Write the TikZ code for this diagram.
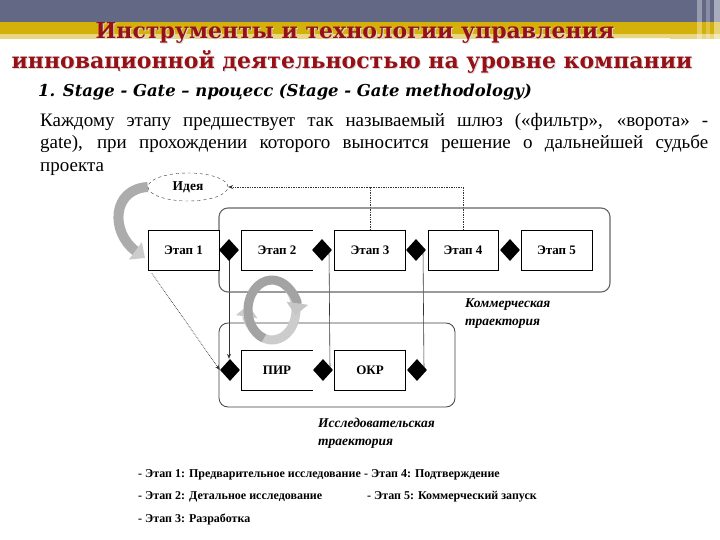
\documentclass[tikz,border=0pt]{standalone}
\usepackage{fontspec}
\setmainfont{Liberation Serif}
\newfontfamily\titlefont{DejaVu Serif}
\usetikzlibrary{shapes.geometric,arrows.meta,backgrounds,calc}
\pgfdeclarelayer{bottom}
\pgfsetlayers{bottom,background,main}
\definecolor{slate}{RGB}{99,104,133}
\definecolor{gold}{RGB}{212,176,10}
\definecolor{paleg}{RGB}{232,214,130}
\definecolor{titlered}{RGB}{150,16,22}
\begin{document}
\begin{tikzpicture}[x=1pt,y=-1pt,
  stagebox/.style={minimum width=71pt, minimum height=40pt, inner sep=0pt, fill=white,
    font=\bfseries\fontsize{13}{15}\selectfont},
  gate/.style={diamond, fill=black, minimum width=20pt, minimum height=22pt, inner sep=0pt},
  conn/.style={draw=black!80, line width=0.6pt},
  dots/.style={draw=black!80, densely dotted, line width=0.7pt},
  track/.style={font=\bfseries\itshape\fontsize{13.5}{18}\selectfont, align=left, anchor=west, inner sep=0pt},
  legend/.style={font=\bfseries\fontsize{12}{14}\selectfont, anchor=west, inner sep=0pt},
  ttl/.style={font=\titlefont\bfseries\fontsize{22}{26}\selectfont, text=titlered, inner sep=0pt},
  ttlsh/.style={font=\titlefont\bfseries\fontsize{22}{26}\selectfont, text=black!15, inner sep=0pt}
]
\begin{pgfonlayer}{bottom}
\fill[white] (0,0) rectangle (720,540);
\end{pgfonlayer}
\useasboundingbox (0,0) rectangle (720,540);
% banner
\begin{pgfonlayer}{bottom}
\fill[slate] (0,0) rectangle (720,22);
\fill[gold] (0,22) rectangle (720,34);
\fill[paleg] (0,34) rectangle (720,39);
\fill[white,opacity=0.35] (697,0) rectangle (702,46);
\fill[white,opacity=0.25] (706,0) rectangle (710,46);
\fill[white,opacity=0.45] (714,0) rectangle (720,46);
\fill[white,opacity=0.8] (615,38) rectangle (670,41);
\end{pgfonlayer}
% titles
\node[ttlsh] (t1s) at (356,34) {Инструменты и технологии управления};
\node[ttlsh] (t2s) at (353,63) {инновационной деятельностью на уровне компании};
\node[ttl] (t1) at (355,33) {Инструменты и технологии управления};
\node[ttl] (t2) at (352,62) {инновационной деятельностью на уровне компании};
\node[font=\titlefont\bfseries\itshape\fontsize{16.4}{19}\selectfont, anchor=west, inner sep=0pt] (sub) at (38,92)
  {1. Stage - Gate – процесс (Stage - Gate methodology)};
\node[anchor=north west, inner sep=0pt, text width=668pt, align=justify,
  font=\fontsize{19}{22.5}\selectfont] (para) at (40,113)
  {Каждому этапу предшествует так называемый шлюз («фильтр», «ворота» -\linebreak
   gate), при прохождении которого выносится решение о дальнейшей судьбе\linebreak
   проекта};
% containers
\node[draw=black!60, line width=1.1pt, rounded corners=9pt, minimum width=391pt, minimum height=84pt] (comm) at (414.5,250) {};
\node[draw=black!75, line width=0.8pt, rounded corners=9pt, minimum width=236pt, minimum height=84pt] (res) at (337,365) {};
% idea
\node[ellipse, draw=black!80, dashed, fill=white, minimum width=80pt, minimum height=28pt, inner sep=0pt,
  font=\bfseries\fontsize{13.5}{15}\selectfont] (idea) at (188,187) {Идея};
% stages
\node[stagebox, draw] (e1) at (183.5,250) {Этап 1};
\node[stagebox] (e2) at (277,250) {Этап 2};
\draw (e2.north east) -- (e2.north west) -- (e2.south west) -- (e2.south east);
\node[stagebox, draw] (e3) at (370,250) {Этап 3};
\node[stagebox, draw, minimum width=70pt] (e4) at (463,250) {Этап 4};
\node[stagebox, draw] (e5) at (556.5,250) {Этап 5};
\node[gate] (g1) at (229,250) {};
\node[gate] (g2) at (322,250) {};
\node[gate] (g3) at (416,250) {};
\node[gate] (g4) at (510,250) {};
% research
\node[stagebox] (r1) at (277,370) {ПИР};
\draw (r1.north east) -- (r1.north west) -- (r1.south west) -- (r1.south east);
\node[stagebox, draw] (r2) at (370,370) {ОКР};
\node[gate] (h1) at (230,370) {};
\node[gate] (h2) at (323,370) {};
\node[gate] (h3) at (417,370) {};
% cycle arrows
\coordinate (cyc) at (272,310);
\draw[line width=9pt, gray!40, -{Triangle[width=21pt,length=12pt]}]
  ([shift={(60:24pt and 30pt)}]cyc) arc[start angle=60, end angle=-190, x radius=24pt, y radius=30pt];
\draw[line width=9pt, gray!72, -{Triangle[width=21pt,length=12pt,color=gray!45]}]
  ([shift={(250:24pt and 30pt)}]cyc) arc[start angle=250, end angle=-10, x radius=24pt, y radius=30pt];
% connectors
\begin{pgfonlayer}{background}
\draw[line width=10pt, gray!65, -{Triangle[width=21pt,length=12pt,color=gray!40]}]
  (idea.west) .. controls (112,189) and (110,232) .. (145,258);
\draw[conn, -{Stealth[length=5pt,width=4pt]}] (g1.center) -- (g1.center |- h1.north);
\draw[conn] ([xshift=7pt]g2.center) -- ([xshift=7pt]h2.center);
\draw[conn] ([xshift=7pt]g3.center) -- ([xshift=7pt]h3.center);
\draw[dots, -{Stealth[length=5pt,width=4pt]}] ([shift={(4,3)}]e1.south west) -- (h1.west);
\draw[dots] (e3.north) -- (e3.north |- idea.east);
\draw[dots, -{Stealth[length=5pt,width=4pt]}] (e4.north) |- (idea.east);
\end{pgfonlayer}
% labels
\node[track] (lc) at (465,314) {Коммерческая\\траектория};
\node[track] (lr) at (318,433) {Исследовательская\\траектория};
% legend
\node[legend] (l1) at (138,475) {- Этап 1: Предварительное исследование};
\node[legend] (l4) at (364,475) {- Этап 4: Подтверждение};
\node[legend] (l2) at (138,497) {- Этап 2: Детальное исследование};
\node[legend] (l5) at (367,497) {- Этап 5: Коммерческий запуск};
\node[legend] (l3) at (138,519) {- Этап 3: Разработка};
\end{tikzpicture}
\end{document}
